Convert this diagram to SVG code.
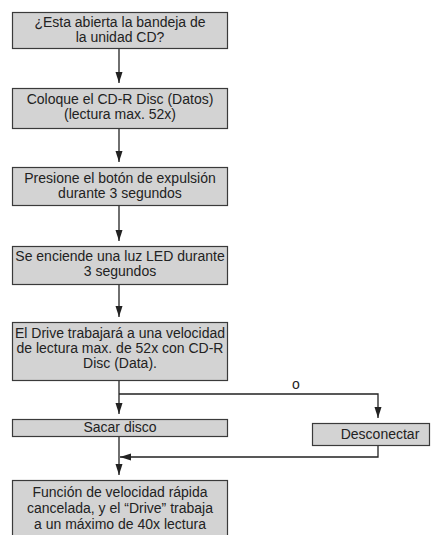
<svg xmlns="http://www.w3.org/2000/svg" width="433" height="535" viewBox="0 0 433 535">
<style>
.box{fill:#d3d3d3;stroke:#3a3a3a;stroke-width:1.2}
.t{font-family:"Liberation Sans",Arial,sans-serif;font-size:14px;fill:#222;text-anchor:middle}
.c{fill:none;stroke:#222;stroke-width:1.3}
</style>
<defs>
<marker id="ah" markerUnits="userSpaceOnUse" markerWidth="12" markerHeight="8" refX="11" refY="3.5" orient="auto">
<path d="M0,0 L11,3.5 L0,7 z" fill="#222"/>
</marker>
</defs>
<rect width="433" height="535" fill="#fff"/>
<g id="connectors">
<line class="c" x1="119" y1="48" x2="119" y2="83" marker-end="url(#ah)"/>
<line class="c" x1="119" y1="128" x2="119" y2="162" marker-end="url(#ah)"/>
<line class="c" x1="119" y1="206" x2="119" y2="241" marker-end="url(#ah)"/>
<line class="c" x1="119" y1="284" x2="119" y2="317" marker-end="url(#ah)"/>
<line class="c" x1="119" y1="381" x2="119" y2="414" marker-end="url(#ah)"/>
<polyline class="c" points="119,394 378,394 378,418" marker-end="url(#ah)"/>
<text class="t" x="296" y="389">o</text>
<line class="c" x1="119" y1="436" x2="119" y2="475" marker-end="url(#ah)"/>
<polyline class="c" points="378,445 378,457 120,457" marker-end="url(#ah)"/>
</g>
<g id="n1"><rect class="box" x="12.5" y="12.5" width="215" height="36"/>
<text class="t" x="120" y="27">¿Esta abierta la bandeja de</text>
<text class="t" x="120" y="42">la unidad CD?</text></g>
<g id="n2"><rect class="box" x="12.5" y="88.5" width="215" height="40"/>
<text class="t" x="120" y="104">Coloque el CD-R Disc (Datos)</text>
<text class="t" x="120" y="119">(lectura max. 52x)</text></g>
<g id="n3"><rect class="box" x="12.5" y="167.5" width="215" height="38"/>
<text class="t" x="120" y="183">Presione el botón de expulsión</text>
<text class="t" x="120" y="198">durante 3 segundos</text></g>
<g id="n4"><rect class="box" x="12.5" y="246.5" width="215" height="38"/>
<text class="t" x="120" y="261">Se enciende una luz LED durante</text>
<text class="t" x="120" y="276">3 segundos</text></g>
<g id="n5"><rect class="box" x="12.5" y="322.5" width="215" height="58"/>
<text class="t" x="120" y="338">El Drive trabajará a una velocidad</text>
<text class="t" x="120" y="353">de lectura max. de 52x con CD-R</text>
<text class="t" x="120" y="368">Disc (Data).</text></g>
<g id="n6"><rect class="box" x="12.5" y="419.5" width="215" height="17"/>
<text class="t" x="120" y="432">Sacar disco</text></g>
<g id="n7"><rect class="box" x="312.5" y="423.5" width="117" height="22"/>
<text class="t" x="380" y="439">Desconectar</text></g>
<g id="n8"><rect class="box" x="12.5" y="480.5" width="215" height="60"/>
<text class="t" x="120" y="497">Función de velocidad rápida</text>
<text class="t" x="120" y="513">cancelada, y el “Drive” trabaja</text>
<text class="t" x="120" y="529">a un máximo de 40x lectura</text></g>
</svg>
